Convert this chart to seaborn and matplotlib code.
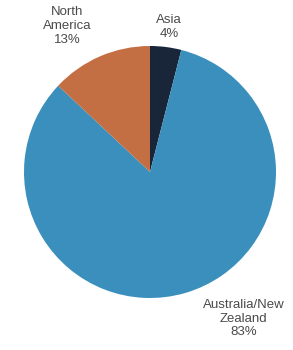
import matplotlib
matplotlib.use("Agg")
import matplotlib.pyplot as plt
import seaborn as sns
import numpy as np

# ==========================================
# DATA
# ==========================================

regions = ["Asia", "Australia/New\nZealand", "North\nAmerica"]
shares = [4, 83, 13]
colors = ["#19263a", "#3a8fbd", "#c46e43"]

# label offsets (angle in degrees, radius in pie units)
label_angles = [82.5, -57.5, 119.5]
label_radii = [1.16, 1.38, 1.33]

sns.set_style("white")
plt.rcParams["font.family"] = ["Liberation Sans", "DejaVu Sans"]

fig = plt.figure(figsize=(2.93, 3.5), dpi=100)
ax = fig.add_axes([0, 0, 1, 1])

ax.pie(
    shares,
    colors=colors,
    startangle=90,
    counterclock=False,
    radius=1.0,
    wedgeprops={"linewidth": 0},
)

for name, val, ang, rad in zip(regions, shares, label_angles, label_radii):
    a = np.deg2rad(ang)
    ax.text(
        rad * np.cos(a),
        rad * np.sin(a),
        f"{name}\n{val}%",
        ha="center",
        va="center",
        fontsize=9.5,
        color="#4a4a4a",
        linespacing=1.2,
    )

r_px = 126
cx, cy = 150, 172
ax.set_xlim(-cx / r_px, (293 - cx) / r_px)
ax.set_ylim(-(350 - cy) / r_px, cy / r_px)
ax.set_aspect("auto")
ax.axis("off")

plt.savefig("out.png", dpi=100)
